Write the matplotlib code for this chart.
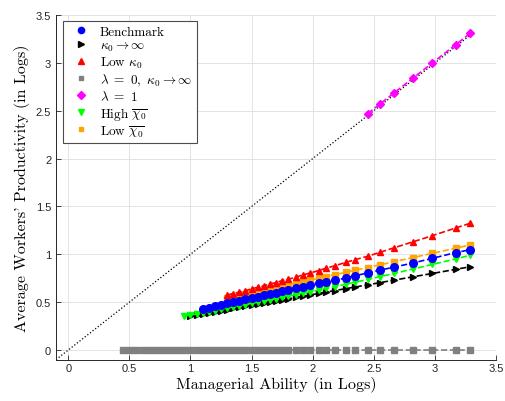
import matplotlib
matplotlib.use("Agg")
import matplotlib.pyplot as plt
from matplotlib.lines import Line2D

plt.rcParams['mathtext.fontset'] = 'cm'

# shared grid of managerial ability (logs)
x_grid = [0.45, 0.50, 0.55, 0.60, 0.65, 0.70, 0.75, 0.80, 0.85, 0.90,
          0.95, 1.00, 1.05, 1.10, 1.15, 1.20, 1.25, 1.30, 1.35, 1.40,
          1.45, 1.50, 1.55, 1.60, 1.65, 1.70, 1.75, 1.80, 1.86, 1.92,
          1.98, 2.05, 2.11, 2.18, 2.27, 2.35, 2.45, 2.55, 2.67, 2.82,
          2.98, 3.17, 3.29]

y_bench = [0.430, 0.444, 0.458, 0.472, 0.487, 0.501, 0.515, 0.529, 0.543, 0.557,
           0.572, 0.586, 0.600, 0.614, 0.628, 0.645, 0.662, 0.679, 0.699, 0.716,
           0.728, 0.752, 0.777, 0.805, 0.835, 0.867, 0.909, 0.958, 1.018, 1.048]
y_kinf = [0.355, 0.366, 0.378, 0.389, 0.400, 0.411, 0.423, 0.434, 0.445, 0.456,
          0.468, 0.479, 0.490, 0.501, 0.513, 0.524, 0.535, 0.549, 0.562, 0.576,
          0.591, 0.605, 0.621, 0.641, 0.659, 0.681, 0.704, 0.731, 0.765, 0.800,
          0.843, 0.870]
y_lowk = [0.575, 0.590, 0.605, 0.620, 0.640, 0.655, 0.670, 0.690, 0.705, 0.725,
          0.740, 0.760, 0.785, 0.805, 0.830, 0.855, 0.880, 0.915, 0.945, 0.980,
          1.020, 1.070, 1.130, 1.195, 1.275, 1.325]
y_lam0 = [0.0] * len(x_grid)
y_lam1 = [2.47, 2.57, 2.69, 2.84, 3.00, 3.19, 3.31]
y_highchi = [0.355, 0.365, 0.378, 0.390, 0.400, 0.413, 0.425, 0.437, 0.450, 0.462,
             0.475, 0.487, 0.500, 0.512, 0.525, 0.537, 0.550, 0.563, 0.578, 0.593,
             0.609, 0.627, 0.643, 0.662, 0.686, 0.709, 0.737, 0.766, 0.801, 0.846,
             0.894, 0.952, 0.990]
y_lowchi = [0.540, 0.554, 0.568, 0.582, 0.596, 0.610, 0.624, 0.638, 0.652, 0.666,
            0.680, 0.697, 0.714, 0.730, 0.750, 0.767, 0.786, 0.812, 0.834, 0.862,
            0.890, 0.924, 0.966, 1.010, 1.064, 1.097]

# where each series starts on the grid
x_bench = [x for x in x_grid if x >= 1.10]
x_kinf = [x for x in x_grid if x >= 1.00]
x_lowk = [x for x in x_grid if x >= 1.30]
x_lam1 = [x for x in x_grid if x >= 2.45]
x_highchi = [x for x in x_grid if x >= 0.95]
x_lowchi = [x for x in x_grid if x >= 1.30]

diag = [-0.1, 3.29]

ticks = [0, 0.5, 1, 1.5, 2, 2.5, 3, 3.5]
tick_labels = ['0', '0.5', '1', '1.5', '2', '2.5', '3', '3.5']

labels = ['Benchmark', r'$\kappa_0 \to \infty$', r'Low $\kappa_0$',
          r'$\lambda\ =\ 0,\ \kappa_0 \to \infty$', r'$\lambda\ =\ 1$',
          r'High $\overline{\chi_0}$', r'Low $\overline{\chi_0}$']

fig = plt.figure(figsize=(5.05, 4.02), dpi=100)
ax = fig.add_axes([0.111, 0.103, 0.871, 0.857])

ax.plot(diag, diag, ':', color='black', lw=0.9, zorder=1)
ax.plot(x_grid, y_lam0, '--s', color='#808080', ms=4.2, lw=1.2, zorder=2)
ax.plot(x_kinf, y_kinf, '-->', color='black', ms=5, lw=1.2, zorder=3)
ax.plot(x_highchi, y_highchi, '--v', color='#00ff00', ms=5, lw=1.2, zorder=4)
ax.plot(x_lowchi, y_lowchi, '--s', color='#ffa500', ms=4, lw=1.2, zorder=5)
ax.plot(x_lowk, y_lowk, '--^', color='#ff0000', ms=5, lw=1.2, zorder=6)
ax.plot(x_bench, y_bench, '--o', color='#0000ff', ms=5.5, lw=1.2, zorder=7)
ax.plot(x_lam1, y_lam1, '--D', color='#ff00ff', ms=4.5, lw=1.2, zorder=8)

handles = [
    Line2D([], [], ls='none', marker='o', color='#0000ff', ms=4.5),
    Line2D([], [], ls='none', marker='>', color='black', ms=4.5),
    Line2D([], [], ls='none', marker='^', color='#ff0000', ms=4.5),
    Line2D([], [], ls='none', marker='s', color='#808080', ms=3.5),
    Line2D([], [], ls='none', marker='D', color='#ff00ff', ms=3.8),
    Line2D([], [], ls='none', marker='v', color='#00ff00', ms=4.5),
    Line2D([], [], ls='none', marker='s', color='#ffa500', ms=3.5),
]
leg = ax.legend(handles, labels, loc='upper left', bbox_to_anchor=(0.016, 0.983),
                borderaxespad=0, prop={'family': 'cmr10', 'size': 9.5},
                fancybox=False, framealpha=1, edgecolor='0.3',
                handlelength=2.0, handletextpad=0.45, borderpad=0.35,
                labelspacing=0.12)
leg.get_frame().set_linewidth(0.8)

ax.set_xlim(-0.1, 3.5)
ax.set_ylim(-0.1, 3.5)
ax.set_xticks(ticks)
ax.set_xticklabels(tick_labels)
ax.set_yticks(ticks)
ax.set_yticklabels(tick_labels)
for lab in ax.get_xticklabels() + ax.get_yticklabels():
    lab.set_fontfamily('Liberation Sans')
ax.tick_params(axis='both', direction='in', length=3.5, width=0.6,
               labelsize=8, colors='#262626')
ax.tick_params(axis='x', pad=2.5)
ax.tick_params(axis='y', pad=3.5)

ax.grid(True, color='#e3e3e3', lw=0.7)
ax.set_axisbelow(True)
for s in ['top', 'right']:
    ax.spines[s].set_visible(False)
for s in ['left', 'bottom']:
    ax.spines[s].set_color('#262626')
    ax.spines[s].set_linewidth(0.7)

ax.set_xlabel('Managerial Ability (in Logs)', fontfamily='cmr10', fontsize=11.5, labelpad=2)
ax.set_ylabel("Average Workers' Productivity (in Logs)", fontfamily='cmr10', fontsize=11.5,
              labelpad=4)

fig.savefig('out.png', dpi=100)
